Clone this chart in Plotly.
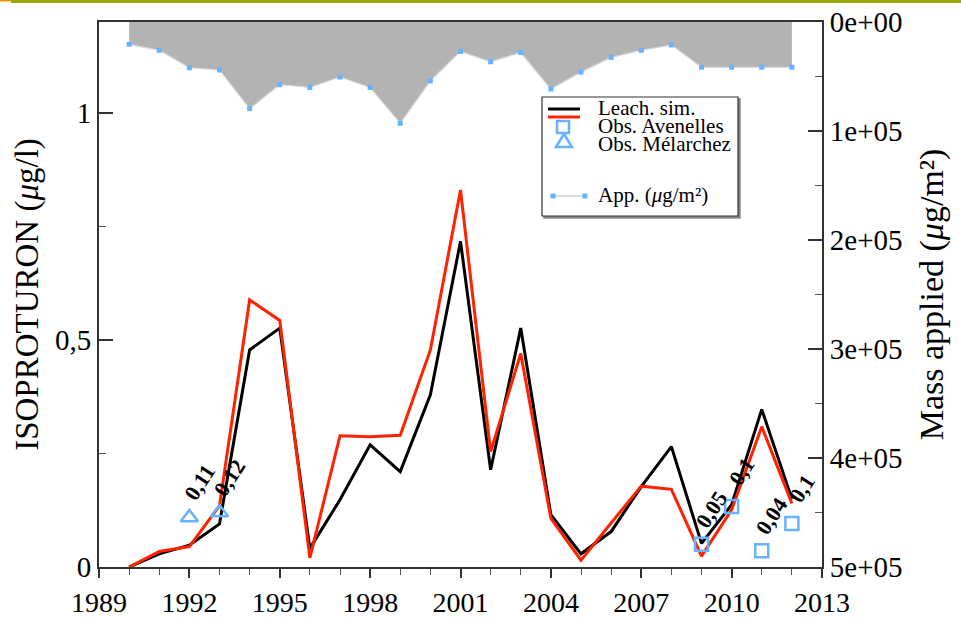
import plotly.graph_objects as go

# ---------------- data ----------------
years = list(range(1990, 2013))
leach_sim = [0, 0.029, 0.048, 0.095, 0.478, 0.526, 0.041, 0.148, 0.269, 0.21, 0.379, 0.717,
             0.214, 0.526, 0.115, 0.029, 0.078, 0.177, 0.265, 0.052, 0.137, 0.347, 0.15]
leach_sim_red = [0, 0.034, 0.045, 0.135, 0.588, 0.543, 0.02, 0.289, 0.287, 0.29, 0.478, 0.83,
                 0.254, 0.47, 0.107, 0.015, 0.097, 0.178, 0.171, 0.024, 0.126, 0.309, 0.14]
mass_applied = [20500, 26000, 42000, 44000, 79500, 57500, 60000, 50500, 60000, 93000, 54000, 27000,
                36500, 28000, 61500, 46000, 32500, 26000, 21000, 41500, 41500, 41500, 41500]

aven_years = [2009, 2010, 2011, 2012]
aven_vals = [0.05, 0.133, 0.036, 0.096]
aven_labels = ["0,05", "0,1", "0,04", "0,1"]

mel_years = [1992, 1993]
mel_vals = [0.109, 0.12]
mel_labels = ["0,11", "0,12"]

x_ticks = [1989, 1992, 1995, 1998, 2001, 2004, 2007, 2010, 2013]
y_ticks = [0, 0.5, 1]
y_ticktext = ["0", "0,5", "1"]
y2_ticks = [0, 100000, 200000, 300000, 400000, 500000]
y2_ticktext = ["0e+00", "1e+05", "2e+05", "3e+05", "4e+05", "5e+05"]

legend_labels = ["Leach. sim.", "Obs. Avenelles", "Obs. Mélarchez", "App. (<i>μ</i>g/m²)"]

# ---------------- style ----------------
FONT = "Liberation Serif"
BLUE = "#66B3FF"
W, H = 961, 620
L, R, T, B = 99, 822, 22, 567


def px(xp):
    return (xp - L) / (R - L)


def py(yp):
    return (B - yp) / (B - T)


fig = go.Figure()

# applied mass (reversed right axis, filled from top)
fig.add_trace(go.Scatter(
    x=years, y=mass_applied, yaxis="y2", mode="lines+markers",
    fill="tozeroy", fillcolor="#B3B3B3",
    line=dict(color="#D0D8E0", width=1.2),
    marker=dict(symbol="square", size=5, color=BLUE),
    name="App.", showlegend=False, hoverinfo="x+y"))

fig.add_trace(go.Scatter(
    x=years, y=leach_sim, mode="lines", line=dict(color="black", width=3),
    name="Leach. sim.", showlegend=False))
fig.add_trace(go.Scatter(
    x=years, y=leach_sim_red, mode="lines", line=dict(color="#FF2200", width=3),
    name="Leach. sim. (2)", showlegend=False))

fig.add_trace(go.Scatter(
    x=aven_years, y=aven_vals, mode="markers",
    marker=dict(symbol="square-open", size=13, color=BLUE, line=dict(width=2.5)),
    name="Obs. Avenelles", showlegend=False))
fig.add_trace(go.Scatter(
    x=mel_years, y=mel_vals, mode="markers",
    marker=dict(symbol="triangle-up-open", size=15, color=BLUE, line=dict(width=2.5)),
    name="Obs. Mélarchez", showlegend=False))

annotations = []
for xs, ys, labs in ((mel_years, mel_vals, mel_labels), (aven_years, aven_vals, aven_labels)):
    for xv, yv, t in zip(xs, ys, labs):
        annotations.append(dict(
            x=xv, y=yv, xref="x", yref="y", text="<b>%s</b>" % t, showarrow=False,
            textangle=-57, xshift=10, yshift=35,
            font=dict(family=FONT, size=22, color="black")))

# legend (drawn manually to match the packed layout)
shapes = []
shapes.append(dict(type="rect", xref="paper", yref="paper",
                   x0=px(544), x1=px(740), y0=py(99), y1=py(218),
                   line=dict(color="#888888", width=1.5), fillcolor="#888888", layer="above"))
shapes.append(dict(type="rect", xref="paper", yref="paper",
                   x0=px(542), x1=px(738), y0=py(97), y1=py(216),
                   line=dict(color="#333333", width=1.2), fillcolor="white", layer="above"))
shapes.append(dict(type="line", xref="paper", yref="paper", x0=px(548), x1=px(580),
                   y0=py(109), y1=py(109), line=dict(color="black", width=3), layer="above"))
shapes.append(dict(type="line", xref="paper", yref="paper", x0=px(548), x1=px(580),
                   y0=py(117), y1=py(117), line=dict(color="#FF2200", width=3), layer="above"))
shapes.append(dict(type="rect", xref="paper", yref="paper", x0=px(557), x1=px(569),
                   y0=py(121), y1=py(133), line=dict(color=BLUE, width=2.5), layer="above"))
shapes.append(dict(type="path", xref="paper", yref="paper",
                   path="M %f %f L %f %f L %f %f Z" % (px(556), py(147), px(572), py(147), px(564), py(134)),
                   line=dict(color=BLUE, width=2.5), layer="above"))
shapes.append(dict(type="line", xref="paper", yref="paper", x0=px(553), x1=px(585),
                   y0=py(196), y1=py(196), line=dict(color="#C8D0D8", width=1.5), layer="above"))
for cx in (553, 585):
    shapes.append(dict(type="rect", xref="paper", yref="paper", x0=px(cx - 2.5), x1=px(cx + 2.5),
                       y0=py(193.5), y1=py(198.5), line=dict(width=0), fillcolor=BLUE, layer="above"))

# slide header bar
shapes.append(dict(type="rect", xref="paper", yref="paper", x0=px(11), x1=px(961),
                   y0=py(0), y1=py(3), line=dict(width=0), fillcolor="#9AAB0C", layer="above"))
shapes.append(dict(type="rect", xref="paper", yref="paper", x0=px(0), x1=px(11),
                   y0=py(0), y1=py(1.5), line=dict(width=0), fillcolor="#F39200", layer="above"))

for lab, yy in zip(legend_labels, (108, 126, 144, 195)):
    annotations.append(dict(x=px(596), y=py(yy), xref="paper", yref="paper", text=lab,
                            showarrow=False, xanchor="left", yanchor="middle",
                            font=dict(family=FONT, size=21, color="black")))

fig.update_layout(
    width=W, height=H,
    margin=dict(l=L, r=W - R, t=T, b=H - B, autoexpand=False),
    paper_bgcolor="white", plot_bgcolor="white",
    font=dict(family=FONT, color="black"),
    showlegend=False,
    shapes=shapes, annotations=annotations,
    xaxis=dict(range=[1989, 2013], tickvals=x_ticks, ticktext=[str(v) for v in x_ticks],
               ticks="outside", ticklen=9, tickwidth=1.5, tickcolor="#333",
               minor=dict(dtick=1, tick0=1989, ticks="outside", ticklen=6, tickwidth=1.2, tickcolor="#555"),
               showline=True, linecolor="#333", linewidth=2, mirror=True,
               showgrid=False, zeroline=False,
               tickfont=dict(family=FONT, size=28)),
    yaxis=dict(range=[0, 1.2], tickvals=y_ticks, ticktext=y_ticktext,
               ticks="inside", ticklen=14, tickwidth=1.5, tickcolor="#333",
               minor=dict(tickvals=[0.25, 0.75], ticks="inside", ticklen=7, tickwidth=1.2, tickcolor="#555"),
               showline=True, linecolor="#333", linewidth=2,
               showgrid=False, zeroline=False,
               tickfont=dict(family=FONT, size=29),
               title=dict(text="ISOPROTURON (<i>μ</i>g/l)", font=dict(family=FONT, size=33), standoff=6)),
    yaxis2=dict(range=[500000, 0], overlaying="y", side="right",
                tickvals=y2_ticks, ticktext=y2_ticktext,
                ticks="inside", ticklen=14, tickwidth=1.5, tickcolor="#333",
                minor=dict(tickvals=[50000, 150000, 250000, 350000, 450000], ticks="inside",
                           ticklen=7, tickwidth=1.2, tickcolor="#555"),
                showline=True, linecolor="#333", linewidth=2,
                showgrid=False, zeroline=False,
                tickfont=dict(family=FONT, size=29),
                title=dict(text="Mass applied (<i>μ</i>g/m²)", font=dict(family=FONT, size=34), standoff=18)),
)

fig.write_html("out.html", config={"displayModeBar": False},
               post_script="document.body.style.margin='0';document.body.style.overflow='hidden';")
